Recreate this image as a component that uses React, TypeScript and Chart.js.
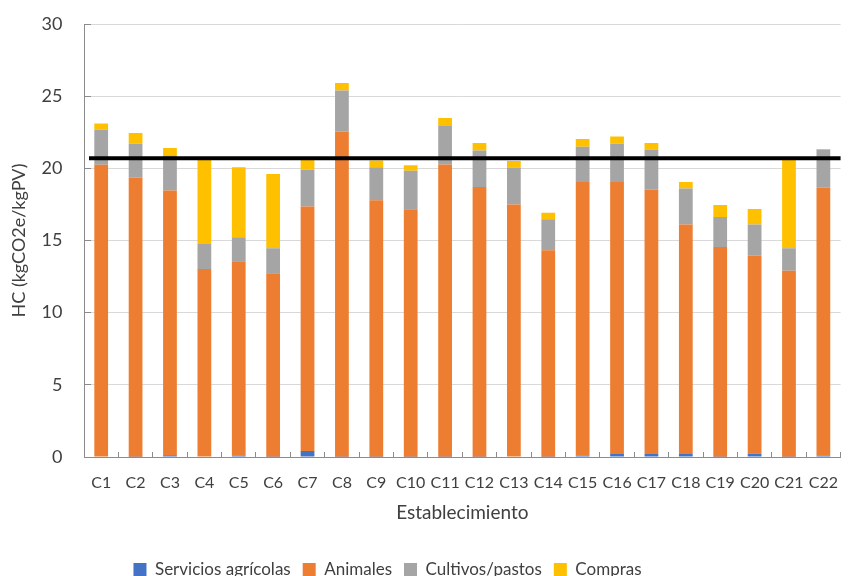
import { useEffect, useRef } from "react";
import { Chart, registerables } from "chart.js";

Chart.register(...registerables);

// Farms (establecimientos)
const categories = [
  "C1", "C2", "C3", "C4", "C5", "C6", "C7", "C8", "C9", "C10", "C11",
  "C12", "C13", "C14", "C15", "C16", "C17", "C18", "C19", "C20", "C21", "C22",
];

// Carbon footprint contributions, kgCO2e/kgPV
const serviciosAgricolas = [
  0.03, 0.02, 0.12, 0.04, 0.08, 0.02, 0.42, 0.02, 0.02, 0.02, 0.02,
  0.02, 0.04, 0.02, 0.09, 0.21, 0.21, 0.21, 0.02, 0.23, 0.02, 0.09,
];
const animales = [
  20.21, 19.34, 18.34, 12.99, 13.48, 12.71, 16.93, 22.53, 17.77, 17.14, 20.24,
  18.69, 17.45, 14.3, 18.97, 18.85, 18.32, 15.89, 14.53, 13.72, 12.89, 18.57,
];
const cultivosPastos = [
  2.44, 2.35, 2.44, 1.73, 1.66, 1.73, 2.56, 2.84, 2.29, 2.68, 2.68,
  2.52, 2.56, 2.15, 2.44, 2.65, 2.77, 2.5, 2.08, 2.15, 1.55, 2.64,
];
const compras = [
  0.42, 0.74, 0.51, 5.84, 4.86, 5.15, 0.69, 0.53, 0.47, 0.37, 0.55,
  0.53, 0.45, 0.46, 0.54, 0.49, 0.46, 0.46, 0.83, 1.09, 6.14, 0.04,
];

// Average footprint drawn as a horizontal reference line
const promedio = 20.7;

const yMin = 0;
const yMax = 30;
const yStep = 5;

const FONT = "Lato, 'Open Sans', sans-serif";
const TEXT = "#404040";

const referenceLine = {
  id: "referenceLine",
  afterDatasetsDraw(chart: any) {
    const { ctx, chartArea, scales } = chart;
    const y = scales.y.getPixelForValue(promedio);
    ctx.save();
    ctx.strokeStyle = "#000000";
    ctx.lineWidth = 4;
    ctx.beginPath();
    ctx.moveTo(chartArea.left + 5, y);
    ctx.lineTo(chartArea.right, y);
    ctx.stroke();
    ctx.restore();
  },
};

// Moves the bottom legend a little left/down
const legendOffset = {
  id: "legendOffset",
  afterLayout(chart: any) {
    const lg = chart.legend;
    if (!lg) return;
    const dx = -42;
    const dy = 12;
    lg.left += dx;
    lg.right += dx;
    lg.top += dy;
    lg.bottom += dy;
  },
};

export default function App() {
  const canvasRef = useRef<HTMLCanvasElement | null>(null);

  useEffect(() => {
    const canvas = canvasRef.current;
    if (!canvas) return;
    const seg = (label: string, data: number[], color: string) => ({
      label,
      data,
      backgroundColor: color,
      borderWidth: 0,
      barPercentage: 0.4,
      categoryPercentage: 1,
    });
    const chart = new Chart(canvas, {
      type: "bar",
      data: {
        labels: categories,
        datasets: [
          seg("Servicios agrícolas", serviciosAgricolas, "#4472C4"),
          seg("Animales", animales, "#ED7D31"),
          seg("Cultivos/pastos", cultivosPastos, "#A5A5A5"),
          seg("Compras", compras, "#FFC000"),
        ],
      },
      options: {
        responsive: false,
        animation: false,
        devicePixelRatio: 1,
        layout: { padding: { top: 24, left: 0, right: 0, bottom: 0 } },
        plugins: {
          tooltip: { enabled: false },
          legend: {
            position: "bottom",
            labels: {
              boxWidth: 13,
              boxHeight: 13,
              padding: 12,
              color: TEXT,
              font: { family: FONT, size: 17 },
            },
          },
        },
        scales: {
          x: {
            stacked: true,
            afterFit: (s: any) => {
              s.height = 80;
            },
            border: { display: true, color: "#8c8c8c", width: 1 },
            grid: {
              offset: true,
              drawOnChartArea: false,
              drawTicks: true,
              tickLength: -5,
              tickColor: "#8c8c8c",
            },
            ticks: {
              padding: 21,
              color: TEXT,
              font: { family: FONT, size: 16 },
              maxRotation: 0,
              autoSkip: false,
            },
            title: {
              display: true,
              text: "Establecimiento",
              color: TEXT,
              font: { family: FONT, size: 19 },
              padding: { top: 0, bottom: 13 },
            },
          },
          y: {
            stacked: true,
            min: yMin,
            max: yMax,
            afterFit: (s: any) => {
              s.width = 84;
              s.paddingTop = 0;
              s.paddingBottom = 0;
            },
            border: { display: true, color: "#8c8c8c", width: 1 },
            grid: {
              color: "#d9d9d9",
              lineWidth: 1,
              drawTicks: true,
              tickLength: -7,
              tickColor: "#8c8c8c",
            },
            ticks: {
              stepSize: yStep,
              padding: 28.5,
              color: TEXT,
              font: { family: FONT, size: 18 },
            },
            title: {
              display: true,
              text: "HC (kgCO2e/kgPV)",
              color: TEXT,
              font: { family: FONT, size: 18 },
              padding: { top: 8, bottom: 0 },
            },
          },
        },
      },
      plugins: [referenceLine, legendOffset],
    });
    return () => chart.destroy();
  }, []);

  return (
    <div
      style={{
        position: "fixed",
        left: 0,
        top: 0,
        width: 853,
        height: 576,
        overflow: "hidden",
        background: "#ffffff",
      }}
    >
      <canvas ref={canvasRef} width={859} height={576} style={{ display: "block" }} />
    </div>
  );
}
